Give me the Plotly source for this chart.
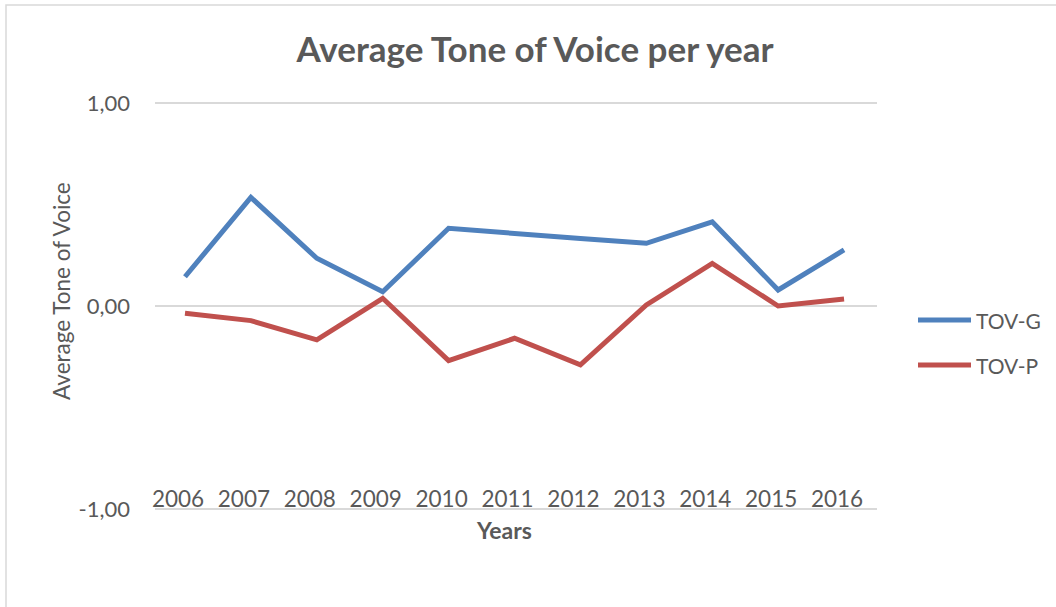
import plotly.graph_objects as go

# Data
years = ["2006", "2007", "2008", "2009", "2010", "2011", "2012", "2013", "2014", "2015", "2016"]
tov_g = [0.144, 0.535, 0.235, 0.070, 0.383, 0.355, 0.332, 0.309, 0.415, 0.079, 0.276]
tov_p = [-0.036, -0.072, -0.167, 0.038, -0.269, -0.159, -0.290, 0.005, 0.210, 0.000, 0.034]
series_names = ["TOV-G", "TOV-P"]
series_colors = ["#4f81bd", "#c0504d"]
y_tick_vals = [-1, 0, 1]
y_tick_text = ["-1,00", "0,00", "1,00"]

TEXT = "#595959"
GRID = "#d9d9d9"
FONT = "Lato"

fig = go.Figure()
for name, vals, col in zip(series_names, [tov_g, tov_p], series_colors):
    fig.add_trace(go.Scatter(
        x=years, y=vals, name=name, mode="lines",
        line=dict(color=col, width=5, shape="linear"),
        showlegend=False,
    ))

# Plot-area geometry in pixels; the ±1 gridlines sit PAD px inside the edges
W, H = 1056, 607
GRID_TOP, GRID_BOT, PAD = 103, 509, 3
L, R = 155, 877
T, B = GRID_TOP - PAD, GRID_BOT + PAD
pw, ph = R - L, B - T
EPS = PAD / ((GRID_BOT - GRID_TOP) / 2)


def px_x(x):
    return (x - L) / pw


def px_y(y):
    return (B - y) / ph


shapes = [
    # outer chart border
    dict(type="rect", xref="paper", yref="paper",
         x0=px_x(6), x1=px_x(1075), y0=px_y(625), y1=px_y(5),
         line=dict(color=GRID, width=1.5), fillcolor="rgba(0,0,0,0)", layer="below"),
]
annotations = [
    dict(text="Average Tone of Voice", textangle=-90, xref="paper", yref="paper",
         x=px_x(61), y=px_y(291), xanchor="center", yanchor="middle", showarrow=False,
         font=dict(family=FONT, size=22.5, color=TEXT)),
    dict(text="<b>Years</b>", xref="paper", yref="paper",
         x=px_x(504), y=px_y(530), xanchor="center", yanchor="middle", showarrow=False,
         font=dict(family=FONT, size=23, color=TEXT)),
]

# Legend drawn at the right of the plot area
leg_y = [320, 365]
for name, col, ly in zip(series_names, series_colors, leg_y):
    shapes.append(dict(type="line", xref="paper", yref="paper",
                       x0=px_x(918), x1=px_x(971), y0=px_y(ly), y1=px_y(ly),
                       line=dict(color=col, width=5)))
    annotations.append(dict(text=name, xref="paper", yref="paper",
                            x=px_x(974), y=px_y(ly), xanchor="left", yanchor="middle",
                            showarrow=False, font=dict(family=FONT, size=21, color=TEXT)))

fig.update_layout(
    width=W, height=H,
    margin=dict(l=L, r=W - R, t=T, b=H - B, pad=0),
    paper_bgcolor="white", plot_bgcolor="white",
    font=dict(family=FONT, color=TEXT),
    title=dict(text="<b>Average Tone of Voice per year</b>", x=535 / W, xref="container",
               xanchor="center", y=1 - 50 / H, yref="container", yanchor="middle",
               font=dict(family=FONT, size=35, color=TEXT)),
    shapes=shapes,
    annotations=annotations,
    showlegend=False,
)
# Category labels sit just above the bottom gridline
fig.update_xaxes(
    type="category", range=[-0.455, 10.5], showgrid=False, zeroline=False, showline=False,
    ticks="", anchor="free", position=px_y(483), side="bottom", ticklabelshift=-7,
    tickfont=dict(family=FONT, size=22.5, color=TEXT),
)
fig.update_yaxes(
    range=[-1 - EPS, 1 + EPS], tickvals=y_tick_vals, ticktext=y_tick_text, showgrid=True,
    gridcolor=GRID, gridwidth=2, zeroline=False, showline=False, ticks="",
    ticklabelstandoff=24, tickfont=dict(family=FONT, size=22, color=TEXT),
)

fig.write_html("out.html")
